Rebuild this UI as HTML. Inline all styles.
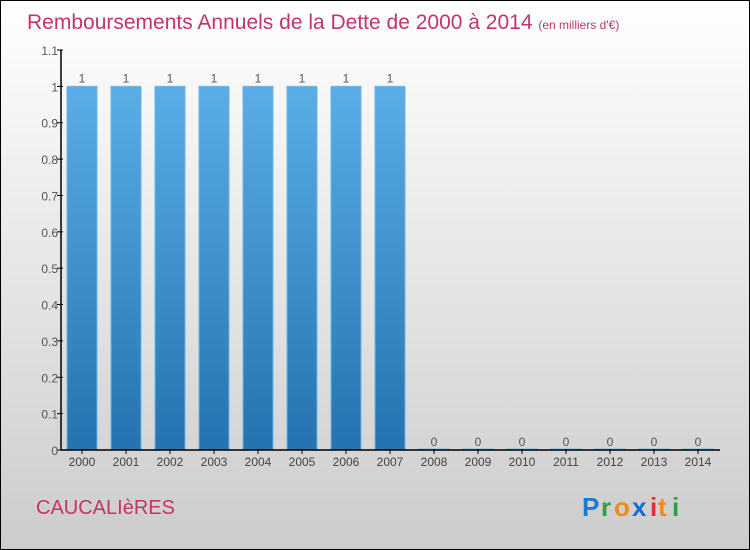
<!DOCTYPE html>
<html><head><meta charset="utf-8"><style>
body{margin:0}
#c{width:750px;height:550px;position:relative;overflow:hidden}
</style></head><body>
<div id="c">
<svg width="750" height="550" xmlns="http://www.w3.org/2000/svg">
<defs>
<linearGradient id="bg" x1="0" y1="0" x2="0" y2="1"><stop offset="0" stop-color="#ffffff"/><stop offset="1" stop-color="#cccccc"/></linearGradient>
<linearGradient id="bar" x1="0" y1="0" x2="0" y2="1"><stop offset="0" stop-color="#5aade6"/><stop offset="1" stop-color="#2473b0"/></linearGradient>
</defs>
<rect x="0.5" y="0.5" width="749" height="549" fill="url(#bg)" stroke="#000"/>
<text x="27" y="29" font-family="Liberation Sans, sans-serif" font-size="21" fill="#c4336a">Remboursements Annuels de la Dette de 2000 à 2014 <tspan font-size="12">(en milliers d'€)</tspan></text>
<g id="plot"></g>
<text x="36" y="514" font-family="Liberation Sans, sans-serif" font-size="20" fill="#c4336a">CAUCALIèRES</text>
<g font-family="Liberation Sans, sans-serif" font-size="26" font-weight="bold">
<text x="582" y="516" fill="#1a7ad0">P</text><text x="601" y="516" fill="#2aa04a">r</text><text x="614" y="516" fill="#f08a1a">o</text><text x="632" y="516" fill="#1a6ad0">x</text><text x="650" y="516" fill="#e03030">i</text><text x="658" y="516" fill="#f08a1a">t</text><text x="672" y="516" fill="#2aa04a">i</text>
</g>
</svg>
</div>
<script>
const years=["2000","2001","2002","2003","2004","2005","2006","2007","2008","2009","2010","2011","2012","2013","2014"];
const values=[1,1,1,1,1,1,1,1,0,0,0,0,0,0,0];
const valueLabels=["1","1","1","1","1","1","1","1","0","0","0","0","0","0","0"];
const yTicks=[0,0.1,0.2,0.3,0.4,0.5,0.6,0.7,0.8,0.9,1,1.1];
const yTickLabels=["0","0.1","0.2","0.3","0.4","0.5","0.6","0.7","0.8","0.9","1","1.1"];
const NS="http://www.w3.org/2000/svg";
const g=document.getElementById('plot');
const x0=61,x1=720,yB=450,yT=50,yMax=1.1,step=44,bw=30,firstC=82;
const yS=v=>yB-(v/yMax)*(yB-yT);
const xC=i=>firstC+i*step;
function mk(t,a){const e=document.createElementNS(NS,t);for(const k in a)e.setAttribute(k,a[k]);g.appendChild(e);return e;}
values.forEach((v,i)=>{
 const top=yS(v);
 const r=mk('rect',{x:xC(i)-bw/2,y:Math.min(top,yB-1),width:bw,height:Math.max(yB-top,1),fill:'url(#bar)',stroke:'#6ab8ea','stroke-width':1});
 
 
 const t=mk('text',{x:xC(i),y:top-4,'text-anchor':'middle','font-family':'Liberation Sans, sans-serif','font-size':12,fill:'#555'});
 t.textContent=valueLabels[i];
 
 
 const xl=mk('text',{x:xC(i),y:466,'text-anchor':'middle','font-family':'Liberation Sans, sans-serif','font-size':12,fill:'#444'});
 xl.textContent=years[i];
 
 
 const tk=mk('line',{x1:xC(i),x2:xC(i),y1:yB,y2:yB+4,stroke:'#000'});
 
 
});
yTicks.forEach((v,i)=>{
 const tk=mk('line',{x1:x0-4,x2:x0+2,y1:yS(v),y2:yS(v),stroke:'#000'});
 
 
 const t=mk('text',{x:x0-3,y:yS(v)+5,'text-anchor':'end','font-family':'Liberation Sans, sans-serif','font-size':12,fill:'#555'});
 t.textContent=yTickLabels[i];
 
 
});
const ya=mk('line',{x1:x0,x2:x0,y1:yT,y2:yB,stroke:'#000','stroke-width':1.5});


const xa=mk('line',{x1:x0,x2:x1,y1:yB,y2:yB,stroke:'#000','stroke-width':1.5});


</script>
</body></html>
